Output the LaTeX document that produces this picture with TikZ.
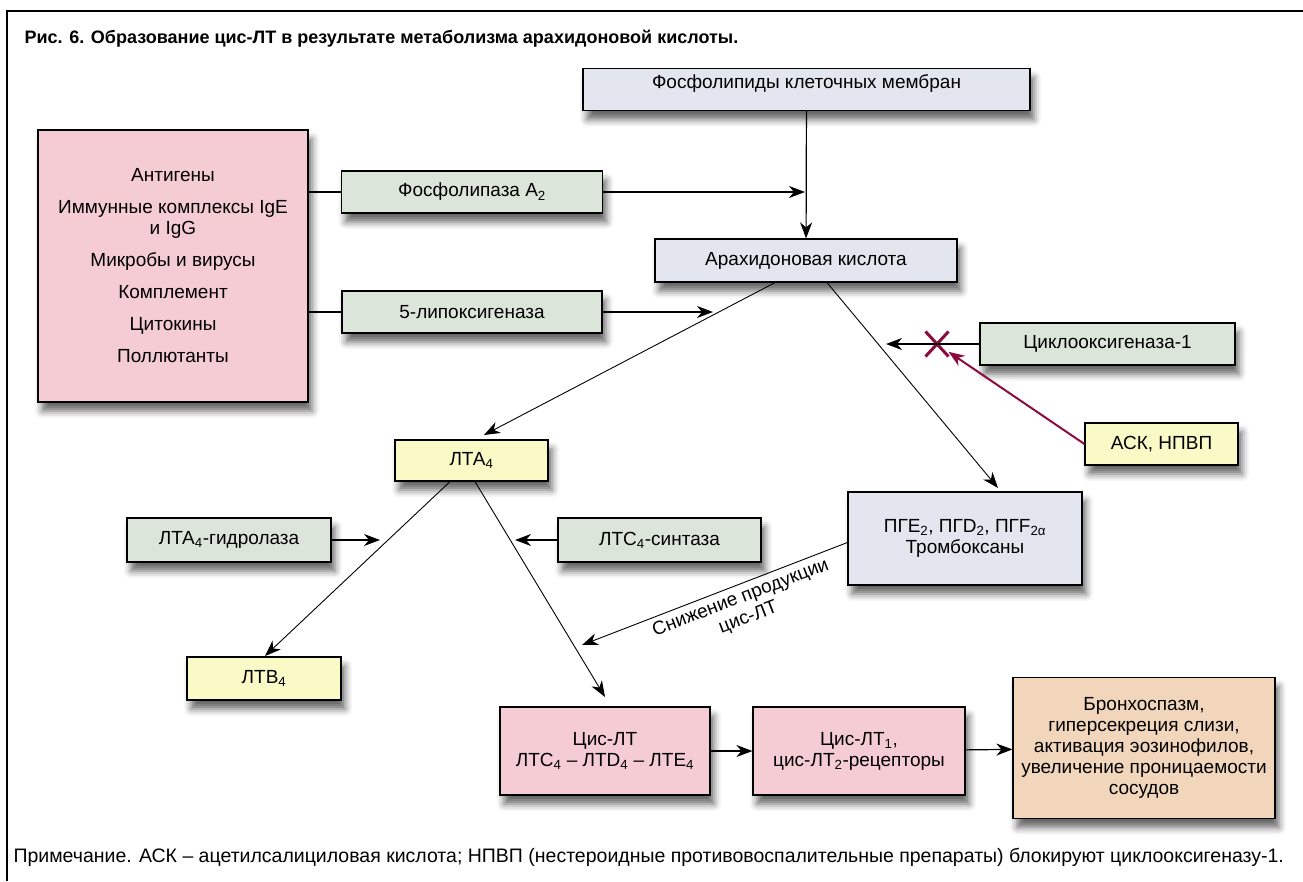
\documentclass[tikz,border=0pt]{standalone}
\usepackage{fontspec}
\setmainfont{Liberation Sans}
\usetikzlibrary{arrows.meta, shapes.misc, shadows.blur, calc}

\definecolor{boxgrey}{HTML}{E3E6EE}
\definecolor{boxgreen}{HTML}{DCE5DA}
\definecolor{boxpink}{HTML}{F5CCD4}
\definecolor{boxyellow}{HTML}{FAFAC6}
\definecolor{boxpeach}{HTML}{F2D6BB}
\definecolor{asared}{HTML}{8C0B3E}

\begin{document}
\begin{tikzpicture}[x=1pt, y=-1pt,
    every node/.style={font=\fontsize{19}{21}\selectfont},
    block/.style={rectangle, draw, line width=1.2pt, inner sep=0pt, align=center,
        blur shadow={shadow xshift=4pt, shadow yshift=-9pt, shadow blur radius=7pt, shadow opacity=60}},
    line/.style={draw, line width=0.9pt, -{Stealth[length=16pt, width=12pt, inset=5pt]}},
    link/.style={draw, line width=1.8pt}
]
\useasboundingbox (0,0) rectangle (1303,881);

% frame and captions
\draw[line width=2pt] (7,881) -- (7,11) -- (1303,11);
\node[anchor=west, font=\fontsize{18}{20}\selectfont\bfseries] (title) at (21,39) {Рис. 6. Образование цис-ЛТ в результате метаболизма арахидоновой кислоты.};
\node[anchor=west, font=\fontsize{19.5}{21}\selectfont] (note) at (10,857) {Примечание. АСК – ацетилсалициловая кислота; НПВП (нестероидные противовоспалительные препараты) блокируют циклооксигеназу-1.};

% boxes
\node [block, fill=boxgrey, minimum width=447pt, anchor=north, text height=20pt, text depth=22pt] (phospho) at (806.5,68) {Фосфолипиды клеточных мембран};
\node [block, fill=boxpink, minimum width=270pt, minimum height=272pt] (agents) at (173,266) {Антигены\\[11pt]Иммунные комплексы IgE\\и IgG\\[11pt]Микробы и вирусы\\[11pt]Комплемент\\[11pt]Цитокины\\[11pt]Поллютанты};
\node [block, fill=boxgreen, minimum width=261pt, minimum height=42pt] (plip) at (472,192) {Фосфолипаза A\textsubscript{2}};
\node [block, fill=boxgreen, minimum width=260pt, minimum height=42pt] (lox) at (472,312) {5-липоксигеназа};
\node [block, fill=boxgrey, minimum width=302pt, minimum height=43pt] (arach) at (806,260.5) {Арахидоновая кислота};
\node [block, fill=boxgreen, minimum width=255pt, minimum height=42pt] (cox) at (1107.5,344) {Циклооксигеназа-1};
\node [block, fill=boxyellow, minimum width=153pt, minimum height=42pt] (asa) at (1161.5,444) {АСК, НПВП};
\node [block, fill=boxyellow, minimum width=153pt, minimum height=41pt] (lta) at (471.5,460.5) {ЛТА\textsubscript{4}};
\node [block, fill=boxgreen, minimum width=204pt, minimum height=44pt] (hydro) at (229,540) {ЛТА\textsubscript{4}-гидролаза};
\node [block, fill=boxgreen, minimum width=203pt, minimum height=44pt] (synth) at (659.5,540) {ЛТС\textsubscript{4}-синтаза};
\node [block, fill=boxgrey, minimum width=234pt, minimum height=93pt] (pg) at (965,538.5) {ПГЕ\textsubscript{2}, ПГD\textsubscript{2}, ПГF\textsubscript{2α}\\Тромбоксаны};
\node [block, fill=boxyellow, minimum width=154pt, minimum height=43pt] (ltb) at (264,678.5) {ЛТВ\textsubscript{4}};
\node [block, fill=boxpink, minimum width=210pt, minimum height=88pt] (cyslt) at (605,751) {Цис-ЛТ\\ЛТС\textsubscript{4} – ЛТD\textsubscript{4} – ЛТЕ\textsubscript{4}};
\node [block, fill=boxpink, minimum width=212pt, minimum height=88pt] (recep) at (859,751) {Цис-ЛТ\textsubscript{1},\\цис-ЛТ\textsubscript{2}-рецепторы};
\node [block, fill=boxpeach, minimum width=262pt, minimum height=141pt] (effect) at (1144,748) {Бронхоспазм,\\гиперсекреция слизи,\\активация эозинофилов,\\увеличение проницаемости\\сосудов};

% arrow ends
\coordinate (pliptip) at (805,192);
\coordinate (loxtip) at (713,312);
\coordinate (ltatip) at (484,435);
\coordinate (pgtip) at (998,488);
\coordinate (coxtip) at (886,344);
\coordinate (hydrotip) at (380,540);
\coordinate (synthtip) at (515,540);
\coordinate (ltbtip) at (265,656);
\coordinate (cistip) at (605,697);
\coordinate (lesstip) at (582,645);
\node[cross out, draw=asared, line width=3pt, minimum width=20pt, minimum height=22pt, inner sep=0pt] (blocked) at (937,344) {};

% connectors
\path [line, line width=1.2pt] (phospho) -- (arach);
\path [link] (agents.east |- plip.west) -- (plip.west);
\path [link] (agents.east |- lox.west) -- (lox.west);
\path [line, line width=1.2pt] (plip.east) -- (pliptip);
\path [line, line width=1.2pt] (lox.east) -- (loxtip);
\path [line] ([xshift=-31pt]arach.south) -- (ltatip);
\path [line] ([xshift=21pt]arach.south) -- (pgtip);
\path [line, line width=1.2pt] (cox.west) -- (coxtip);
\path [line, draw=asared, line width=2pt] (asa.west) -- (blocked);
\path [line] ([xshift=-21.5pt]lta.south) -- (ltbtip);
\path [line] ([xshift=3.5pt]lta.south) -- (cistip);
\path [line, line width=1.2pt] (hydro.east) -- (hydrotip);
\path [line, line width=1.2pt] (synth.west) -- (synthtip);
\path [line] ([yshift=-4pt]pg.west) -- (lesstip);
\node[rotate=21, anchor=north, align=center, inner sep=5pt] (lesslabel) at ($([yshift=-4pt]pg.west)!0.42!(lesstip)$) {Снижение продукции\\цис-ЛТ};
\path [line, line width=1.2pt] (cyslt) -- (recep);
\path [line, line width=1.2pt] (recep) -- (effect);

\end{tikzpicture}
\end{document}
